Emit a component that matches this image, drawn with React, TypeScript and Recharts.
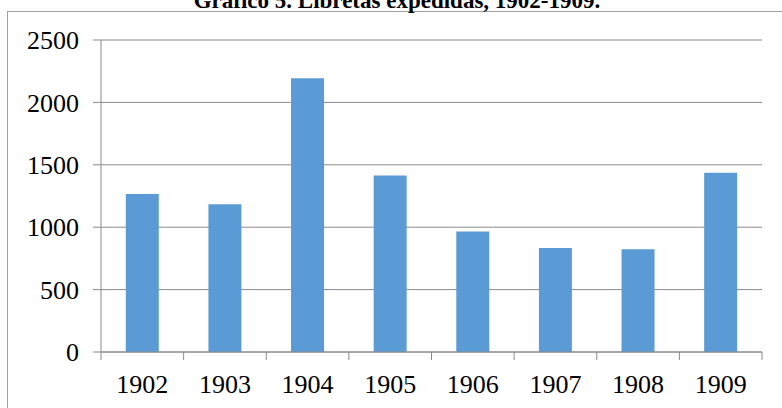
import React from "react";
import { BarChart, Bar, XAxis, YAxis, CartesianGrid } from "recharts";

const years = ["1902", "1903", "1904", "1905", "1906", "1907", "1908", "1909"];
const libretas = [1267, 1184, 2193, 1414, 965, 834, 824, 1436];
const yTicks = [0, 500, 1000, 1500, 2000, 2500];
const title = "Gráfico 5. Libretas expedidas, 1902-1909.";

const data = years.map((y, i) => ({ year: y, value: libretas[i] }));

const W = 782;
const H = 408;
const Y_AXIS_W = 60;
const X_AXIS_H = 56;
const margin = { top: 40, right: 20, bottom: 0, left: 101 - Y_AXIS_W };
const plotW = W - 101 - margin.right;
const FONT = "'Liberation Serif', 'Times New Roman', serif";
const GRID = "#8a8a8a";

const XTick = (props: any) => {
  const { x, y, payload, index, visibleTicksCount } = props;
  const half =
    payload && typeof payload.offset === "number" && payload.offset > 0
      ? payload.offset
      : plotW / years.length / 2;
  const count = visibleTicksCount ?? years.length;
  return (
    <g>
      <line x1={x - half} x2={x - half} y1={y} y2={y + 8} stroke={GRID} strokeWidth={1} />
      {index === count - 1 && (
        <line x1={x + half} x2={x + half} y1={y} y2={y + 8} stroke={GRID} strokeWidth={1} />
      )}
      <text x={x} y={y + 41} textAnchor="middle" fill="#000" fontSize={26} fontFamily={FONT}>
        {payload.value}
      </text>
    </g>
  );
};

export default function App() {
  return (
    <div
      style={{
        position: "absolute",
        left: 0,
        top: 0,
        width: W,
        height: H,
        overflow: "hidden",
        background: "#fff",
      }}
    >
      <div
        style={{
          position: "absolute",
          left: 7,
          top: 11,
          width: 900,
          height: 500,
          borderLeft: "1px solid #a0a0a0",
          borderTop: "1px solid #a0a0a0",
        }}
      />
      <svg
        width={W}
        height={30}
        style={{ position: "absolute", left: 0, top: 0, overflow: "visible" }}
      >
        <text
          x={397}
          y={7.5}
          textAnchor="middle"
          fontFamily={FONT}
          fontWeight="bold"
          fontSize={23}
          fill="#000"
        >
          {title}
        </text>
      </svg>
      <div style={{ position: "absolute", left: 0, top: 0 }}>
        <BarChart
          width={W}
          height={H}
          data={data}
          margin={margin}
          barCategoryGap="30%"
        >
          <CartesianGrid horizontal vertical={false} stroke={GRID} strokeWidth={1} />
          <XAxis
            dataKey="year"
            height={X_AXIS_H}
            axisLine={{ stroke: GRID, strokeWidth: 1 }}
            tickLine={false}
            tickSize={0}
            tickMargin={0}
            tick={<XTick />}
            interval={0}
          />
          <YAxis
            width={Y_AXIS_W}
            domain={[0, 2500]}
            ticks={yTicks}
            interval={0}
            axisLine={{ stroke: GRID, strokeWidth: 1 }}
            tickLine={{ stroke: GRID, strokeWidth: 1 }}
            tickSize={8}
            tickMargin={14}
            tick={{ fill: "#000", fontSize: 26, fontFamily: FONT }}
          />
          <Bar dataKey="value" fill="#5b9bd5" isAnimationActive={false} />
        </BarChart>
      </div>
    </div>
  );
}
